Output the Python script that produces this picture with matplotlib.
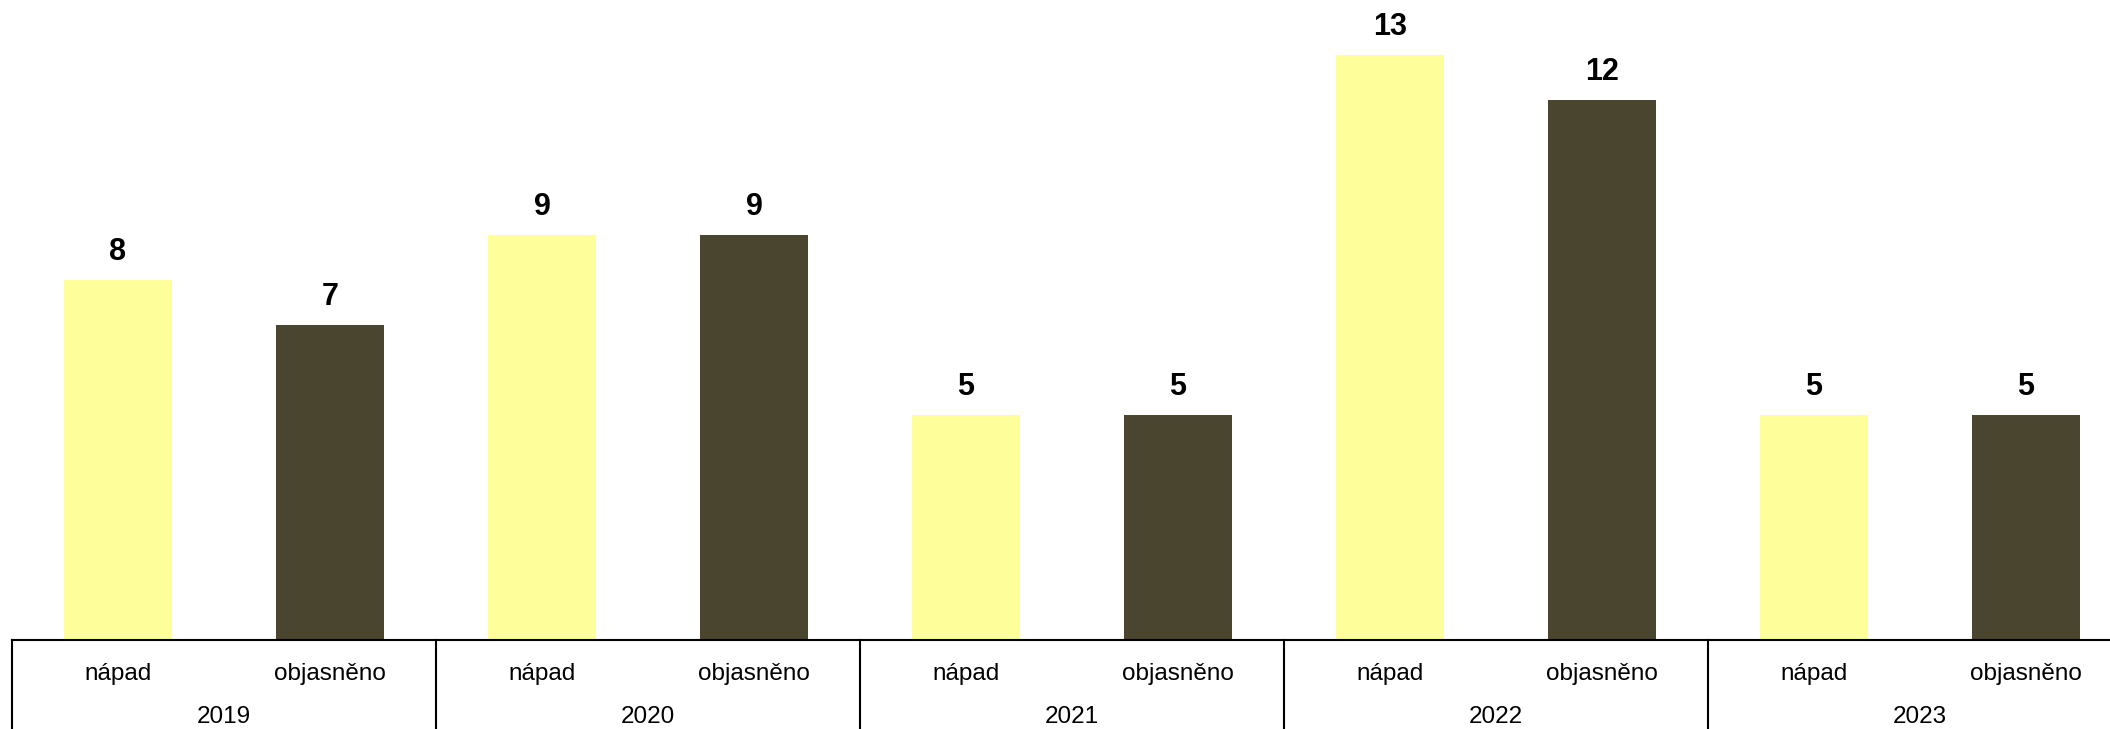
import matplotlib.pyplot as plt

plt.rcParams['font.family'] = ['Liberation Sans', 'DejaVu Sans']

# Data
years = ['2019', '2020', '2021', '2022', '2023']
categories = ['nápad', 'objasněno']
napad = [8, 9, 5, 13, 5]
objasneno = [7, 9, 5, 12, 5]

color_napad = '#FEFE9A'
color_obj = '#4A452E'

fig = plt.figure(figsize=(21.1, 7.29), dpi=100)
# axes run a bit past the right edge, as in the original (last group is cut off)
ax = fig.add_axes([12 / 2110, 89 / 729, 2120 / 2110, 640 / 729])

values = []
colors = []
for a, b in zip(napad, objasneno):
    values += [a, b]
    colors += [color_napad, color_obj]
xpos = list(range(len(values)))

ax.bar(xpos, values, width=0.505, color=colors)

for x, v in zip(xpos, values):
    ax.text(x, v + 0.62, str(v), ha='center', va='center',
            fontsize=22, fontweight='bold')

ax.set_xlim(-0.5, len(values) - 0.5)
ax.set_ylim(0, 640 / 45)

for s in ['top', 'right', 'left']:
    ax.spines[s].set_visible(False)
ax.spines['bottom'].set_linewidth(1.5)
ax.set_yticks([])
ax.set_xticks([])

trans = ax.get_xaxis_transform()
for x in xpos:
    ax.text(x, -0.053, categories[x % 2], ha='center', va='center',
            fontsize=17.5, transform=trans)
for i, y in enumerate(years):
    ax.text(2 * i + 0.5, -0.1203, y, ha='center', va='center',
            fontsize=17.5, transform=trans)
    ax.plot([2 * i - 0.5, 2 * i - 0.5], [0, -0.2], color='black', lw=1.5,
            transform=trans, clip_on=False)

fig.savefig('out.png', dpi=100)
